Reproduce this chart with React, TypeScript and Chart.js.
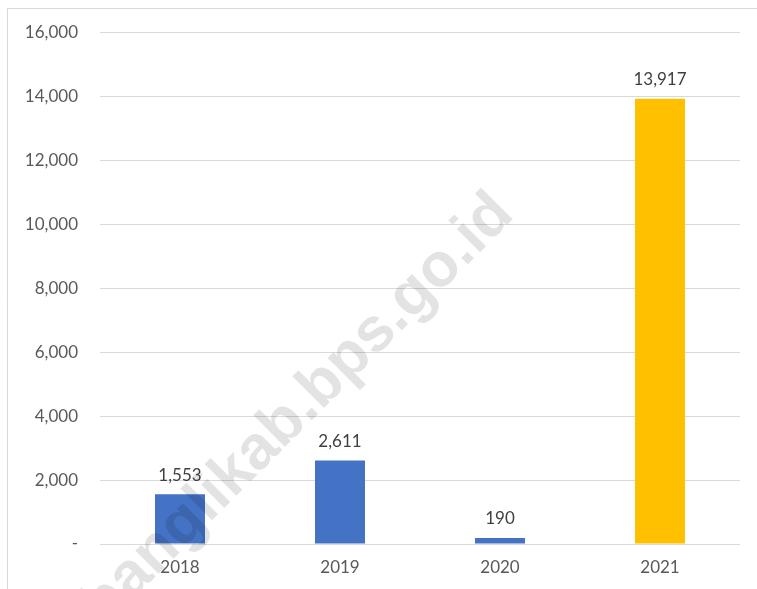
import React, { useEffect, useRef } from "react";
import { Chart, registerables } from "chart.js";

Chart.register(...registerables);

const categories = ["2018", "2019", "2020", "2021"];
const values = [1553, 2611, 190, 13917];
const barColors = ["#4472C4", "#4472C4", "#4472C4", "#FFC000"];
const yTicks = [0, 2000, 4000, 6000, 8000, 10000, 12000, 14000, 16000];
const watermarkText = "banglikab.bps.go.id";

const FONT = "Lato, 'Open Sans', sans-serif";

const fmt = (v: number) => (v === 0 ? "-" : v.toLocaleString("en-US"));

const framePlugin = {
  id: "frame",
  beforeDraw(chart: any) {
    const ctx = chart.ctx;
    ctx.save();
    ctx.fillStyle = "#ffffff";
    ctx.fillRect(0, 0, chart.width, chart.height);
    ctx.strokeStyle = "#d9d9d9";
    ctx.lineWidth = 1;
    ctx.beginPath();
    ctx.moveTo(7.5, chart.height);
    ctx.lineTo(7.5, 8.5);
    ctx.lineTo(chart.width, 8.5);
    ctx.stroke();
    ctx.restore();
  },
};

const labelPlugin = {
  id: "barLabels",
  afterDatasetsDraw(chart: any) {
    const ctx = chart.ctx;
    const meta = chart.getDatasetMeta(0);
    ctx.save();
    ctx.font = `17px ${FONT}`;
    ctx.fillStyle = "#404040";
    ctx.textAlign = "center";
    ctx.textBaseline = "middle";
    meta.data.forEach((bar: any, i: number) => {
      ctx.fillText(fmt(values[i]), bar.x, bar.y - 19);
    });
    ctx.restore();
  },
};

const watermarkPlugin = {
  id: "watermark",
  afterDraw(chart: any) {
    const ctx = chart.ctx;
    ctx.save();
    ctx.translate(298, 410);
    ctx.rotate((-45 * Math.PI) / 180);
    ctx.font = `bold 62px 'Liberation Sans', Arial, sans-serif`;
    ctx.fillStyle = "rgba(0,0,0,0.11)";
    ctx.textAlign = "center";
    ctx.textBaseline = "middle";
    ctx.fillText(watermarkText, 0, 0);
    ctx.restore();
  },
};

export default function App() {
  const ref = useRef<HTMLCanvasElement>(null);
  useEffect(() => {
    if (!ref.current) return;
    const chart = new Chart(ref.current, {
      type: "bar",
      data: {
        labels: categories,
        datasets: [
          {
            data: values,
            backgroundColor: barColors,
            categoryPercentage: 1,
            barPercentage: 0.3125,
          },
        ],
      },
      options: {
        animation: false,
        responsive: false,
        maintainAspectRatio: false,
        layout: { padding: { top: 32, right: 17, left: 0, bottom: 0 } },
        plugins: {
          legend: { display: false },
          tooltip: { enabled: false },
        },
        scales: {
          x: {
            grid: { display: false, drawTicks: false },
            border: { display: false },
            ticks: {
              color: "#595959",
              font: { family: FONT, size: 17 },
              padding: 13,
            },
            afterFit(scale: any) {
              scale.height = 45;
            },
          },
          y: {
            min: 0,
            max: 16000,
            grid: { color: "#d9d9d9", lineWidth: 1, drawTicks: false },
            border: { display: false },
            afterBuildTicks(scale: any) {
              scale.ticks = yTicks.map((v) => ({ value: v }));
            },
            ticks: {
              color: "#595959",
              font: { family: FONT, size: 17 },
              padding: 22,
              callback: (v: any) => fmt(Number(v)),
            },
            afterFit(scale: any) {
              scale.width = 100;
            },
          },
        },
      },
      plugins: [framePlugin, labelPlugin, watermarkPlugin],
    });
    return () => chart.destroy();
  }, []);
  return (
    <div style={{ position: "absolute", left: 0, top: 0, width: 757, height: 589 }}>
      <canvas ref={ref} width={757} height={589} style={{ width: 757, height: 589 }} />
    </div>
  );
}
